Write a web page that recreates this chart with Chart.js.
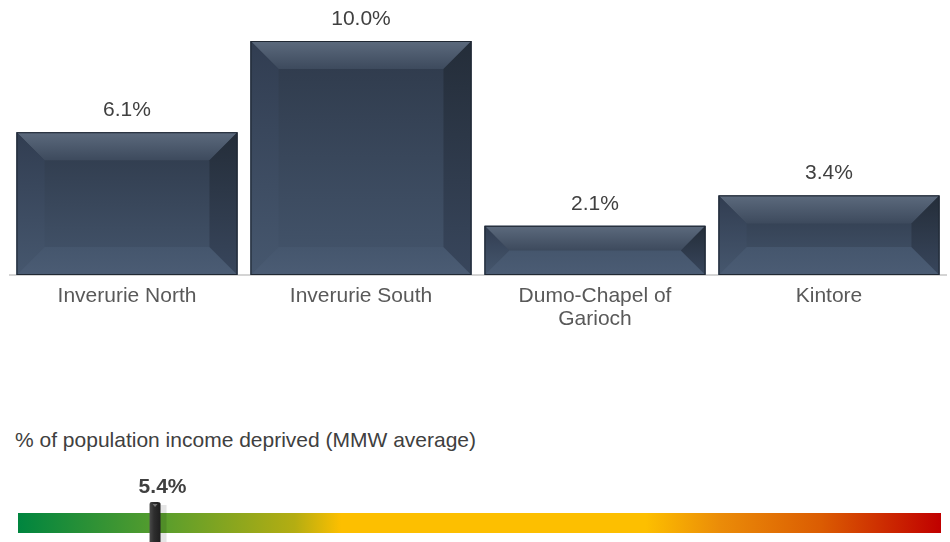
<!DOCTYPE html>
<html>
<head>
<meta charset="utf-8">
<script src="https://cdn.jsdelivr.net/npm/chart.js@4.4.0/dist/chart.umd.min.js"></script>
<style>
    html, body { margin: 0; padding: 0; background: #ffffff; }
    body { width: 950px; height: 542px; position: relative; overflow: hidden; font-family: "Liberation Sans", Arial, sans-serif; }
    #barsWrap { position: absolute; left: 0; top: 0; width: 950px; height: 345px; }
    #caption { position: absolute; left: 15px; top: 428px; font-size: 21px; color: #404040; white-space: nowrap; }
    #gaugeWrap { position: absolute; left: 0; top: 470px; width: 950px; height: 72px; }
</style>
</head>
<body>
<div id="barsWrap"><canvas id="chartBars"></canvas></div>
<div id="caption">% of population income deprived (MMW average)</div>
<div id="gaugeWrap"><canvas id="chartGauge"></canvas></div>

<script>
// data
const areas = ['Inverurie North', 'Inverurie South', ['Dumo-Chapel of', 'Garioch'], 'Kintore'];
const incomeDeprived = [6.1, 10.0, 2.1, 3.4];
const mmwAverage = 5.4;
const gaugeRange = [0, 36.5];

const FONT = '"Liberation Sans", Arial, sans-serif';

// bevelled bars drawn over the library's own bar elements
const bevelPlugin = {
    id: 'bevel',
    afterDatasetsDraw(chart) {
        const ctx = chart.ctx;
        const meta = chart.getDatasetMeta(0);
        meta.data.forEach((bar, i) => {
            const l = bar.x - bar.width / 2;
            const r = bar.x + bar.width / 2;
            const t = bar.y;
            const b = bar.base;
            const h = b - t;
            const bv = Math.min(28, h / 2);

            ctx.save();
            // centre
            let g = ctx.createLinearGradient(0, t, 0, b);
            g.addColorStop(0, '#2e394a');
            g.addColorStop(1, '#44556c');
            ctx.fillStyle = g;
            ctx.fillRect(l, t, r - l, h);

            // top bevel
            g = ctx.createLinearGradient(0, t, 0, t + bv);
            g.addColorStop(0, '#5c6a7d');
            g.addColorStop(1, '#3d4a5d');
            ctx.fillStyle = g;
            ctx.beginPath();
            ctx.moveTo(l, t); ctx.lineTo(r, t); ctx.lineTo(r - bv, t + bv); ctx.lineTo(l + bv, t + bv); ctx.closePath();
            ctx.fill();

            // bottom bevel
            g = ctx.createLinearGradient(0, b - bv, 0, b);
            g.addColorStop(0, '#45566d');
            g.addColorStop(1, '#4b5c74');
            ctx.fillStyle = g;
            ctx.beginPath();
            ctx.moveTo(l, b); ctx.lineTo(r, b); ctx.lineTo(r - bv, b - bv); ctx.lineTo(l + bv, b - bv); ctx.closePath();
            ctx.fill();

            // left bevel
            g = ctx.createLinearGradient(0, t, 0, b);
            g.addColorStop(0, '#313d51');
            g.addColorStop(1, '#46576e');
            ctx.fillStyle = g;
            ctx.beginPath();
            ctx.moveTo(l, t); ctx.lineTo(l + bv, t + bv); ctx.lineTo(l + bv, b - bv); ctx.lineTo(l, b); ctx.closePath();
            ctx.fill();

            // right bevel
            g = ctx.createLinearGradient(0, t, 0, b);
            g.addColorStop(0, '#242d39');
            g.addColorStop(1, '#38465c');
            ctx.fillStyle = g;
            ctx.beginPath();
            ctx.moveTo(r, t); ctx.lineTo(r - bv, t + bv); ctx.lineTo(r - bv, b - bv); ctx.lineTo(r, b); ctx.closePath();
            ctx.fill();

            ctx.strokeStyle = '#202833';
            ctx.lineWidth = 1;
            ctx.strokeRect(l + 0.5, t + 0.5, r - l - 1, h - 1);

            // value label
            ctx.fillStyle = '#404040';
            ctx.font = '21px ' + FONT;
            ctx.textAlign = 'center';
            ctx.textBaseline = 'middle';
            ctx.fillText(incomeDeprived[i].toFixed(1) + '%', bar.x, t - 22);
            ctx.restore();
        });
    }
};

new Chart(document.getElementById('chartBars'), {
    type: 'bar',
    data: {
        labels: areas,
        datasets: [{
            data: incomeDeprived,
            backgroundColor: '#354357',
            borderWidth: 0,
            barPercentage: 0.944,
            categoryPercentage: 1
        }]
    },
    options: {
        responsive: true,
        maintainAspectRatio: false,
        animation: false,
        layout: { padding: { top: 41, left: 10, right: 4, bottom: 0 } },
        plugins: { legend: { display: false }, tooltip: { enabled: false } },
        scales: {
            x: {
                grid: { display: false },
                border: { color: '#d4d4d4', width: 2 },
                ticks: { color: '#595959', padding: 2, font: { family: FONT, size: 21, lineHeight: 1.1 } },
                afterFit: (axis) => { axis.height = 70; }
            },
            y: {
                display: false,
                min: 0,
                max: 10
            }
        }
    },
    plugins: [bevelPlugin]
});

// gauge marker + label
const markerPlugin = {
    id: 'marker',
    afterDatasetsDraw(chart) {
        const ctx = chart.ctx;
        const x = chart.scales.x.getPixelForValue(mmwAverage);
        const area = chart.chartArea;
        ctx.save();
        // shadow
        ctx.fillStyle = 'rgba(0,0,0,0.10)';
        ctx.fillRect(x + 6, area.top - 8, 6, 72);
        // body
        const g = ctx.createLinearGradient(x - 5, 0, x + 6, 0);
        g.addColorStop(0, '#4a4a4a');
        g.addColorStop(0.4, '#2e2e2e');
        g.addColorStop(1, '#1e1e1e');
        ctx.fillStyle = g;
        ctx.beginPath();
        ctx.moveTo(x - 5, 72);
        ctx.lineTo(x - 5, area.top - 9);
        ctx.quadraticCurveTo(x - 5, area.top - 11, x - 3, area.top - 11);
        ctx.lineTo(x + 3, area.top - 11);
        ctx.quadraticCurveTo(x + 6, area.top - 11, x + 6, area.top - 9);
        ctx.lineTo(x + 6, 72);
        ctx.closePath();
        ctx.fill();
        // notch
        ctx.fillStyle = '#777777';
        ctx.beginPath();
        ctx.moveTo(x - 2, area.top - 9);
        ctx.lineTo(x + 3, area.top - 9);
        ctx.lineTo(x + 0.5, area.top - 6);
        ctx.closePath();
        ctx.fill();
        // label
        ctx.fillStyle = '#404040';
        ctx.font = 'bold 21px ' + FONT;
        ctx.textAlign = 'center';
        ctx.textBaseline = 'middle';
        ctx.fillText(mmwAverage.toFixed(1) + '%', x + 8, 17);
        ctx.restore();
    }
};

new Chart(document.getElementById('chartGauge'), {
    type: 'bar',
    data: {
        labels: [''],
        datasets: [{
            data: [gaugeRange],
            backgroundColor: (c) => {
                const area = c.chart.chartArea;
                if (!area) return '#fdbf00';
                const g = c.chart.ctx.createLinearGradient(area.left, 0, area.right, 0);
                g.addColorStop(0, '#00853f');
                g.addColorStop(0.16, '#5b9e2c');
                g.addColorStop(0.3, '#b4ad12');
                g.addColorStop(0.35, '#fdbf00');
                g.addColorStop(0.68, '#fdbf00');
                g.addColorStop(0.76, '#eb8c08');
                g.addColorStop(0.87, '#db5c02');
                g.addColorStop(1, '#c00000');
                return g;
            },
            borderWidth: 0,
            barPercentage: 1,
            categoryPercentage: 1
        }]
    },
    options: {
        indexAxis: 'y',
        responsive: true,
        maintainAspectRatio: false,
        animation: false,
        layout: { padding: { top: 43, bottom: 9, left: 18, right: 9 } },
        plugins: { legend: { display: false }, tooltip: { enabled: false } },
        scales: {
            x: { display: false, min: gaugeRange[0], max: gaugeRange[1] },
            y: { display: false }
        }
    },
    plugins: [markerPlugin]
});
</script>
</body>
</html>
